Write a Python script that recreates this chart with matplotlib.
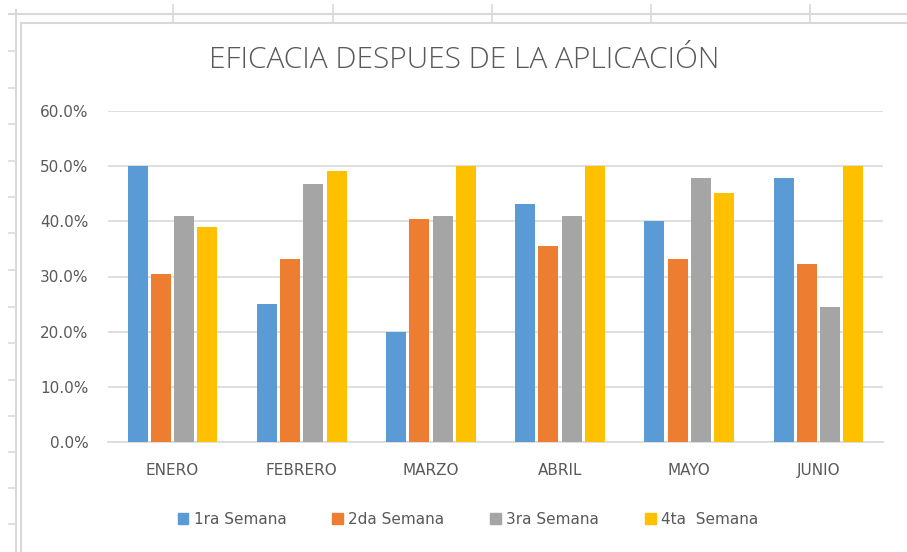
import matplotlib
matplotlib.use("Agg")
import matplotlib.pyplot as plt
from matplotlib.lines import Line2D
from matplotlib.patches import Rectangle
import numpy as np

months = ["ENERO", "FEBRERO", "MARZO", "ABRIL", "MAYO", "JUNIO"]
series_names = ["1ra Semana", "2da Semana", "3ra Semana", "4ta  Semana"]
semana1 = [0.50, 0.25, 0.20, 0.431, 0.40, 0.479]
semana2 = [0.304, 0.332, 0.404, 0.355, 0.332, 0.323]
semana3 = [0.41, 0.468, 0.41, 0.41, 0.479, 0.245]
semana4 = [0.39, 0.491, 0.50, 0.50, 0.451, 0.50]
colors = ["#5B9BD5", "#ED7D31", "#A5A5A5", "#FFC000"]
yticks = [0.0, 0.1, 0.2, 0.3, 0.4, 0.5, 0.6]

W, H = 907, 552
fig = plt.figure(figsize=(W / 100, H / 100), dpi=100)
fig.patch.set_facecolor("white")

# spreadsheet background decorations
lc = "#d9d9d9"
def fx(x): return x / W
def fy(y): return 1 - y / H
fig.add_artist(Line2D([fx(9), 1], [fy(14), fy(14)], color=lc, lw=1.5))
fig.add_artist(Line2D([fx(21), 1], [fy(23), fy(23)], color=lc, lw=1.5))
fig.add_artist(Line2D([fx(16), fx(16)], [fy(10), 0], color=lc, lw=1.5))
fig.add_artist(Line2D([fx(21), fx(21)], [fy(23), 0], color=lc, lw=1.5))
for x in [173, 333, 492, 651, 810]:
    fig.add_artist(Line2D([fx(x), fx(x)], [fy(5), fy(23)], color=lc, lw=1.2))
for y in [51, 87.5, 124, 160.5, 197, 233.5, 270, 306.5, 343, 379.5, 416, 452, 488, 524]:
    fig.add_artist(Line2D([fx(9), fx(16)], [fy(y), fy(y)], color=lc, lw=1.2))

ax = fig.add_axes([fx(108), fy(442), fx(883) - fx(108), fy(111) - fy(442)])
ax.set_facecolor("white")

x = np.arange(len(months))
step = 0.18
bw = 0.155
all_series = [semana1, semana2, semana3, semana4]
for i, (vals, c, name) in enumerate(zip(all_series, colors, series_names)):
    ax.bar(x + (i - 1.5) * step, vals, width=bw, color=c, label=name, zorder=3)

ax.set_xlim(-0.5, len(months) - 0.5)
ax.set_ylim(0, 0.6)
ax.set_yticks(yticks)
ax.set_yticklabels([f"{v*100:.1f}%" for v in yticks])
ax.set_xticks(x)
ax.set_xticklabels(months)
ax.yaxis.grid(True, color="#d9d9d9", lw=1.2, zorder=0)
for s in ["top", "right", "left"]:
    ax.spines[s].set_visible(False)
ax.spines["bottom"].set_color("#d9d9d9")
ax.spines["bottom"].set_linewidth(1.2)
ax.tick_params(axis="both", length=0, colors="#595959", labelsize=11)
ax.tick_params(axis="y", pad=14)
ax.tick_params(axis="x", pad=15)

fig.text(fx(464), fy(60), "EFICACIA DESPUES DE LA APLICACIÓN", ha="center", va="center",
         fontsize=21.5, color="#595959", family="Open Sans", fontweight="light")

handles = [Rectangle((0, 0), 1, 1, color=c) for c in colors]
fig.legend(handles, series_names, loc="center", bbox_to_anchor=(fx(468), fy(519)), ncol=4,
           frameon=False, fontsize=11, labelcolor="#595959", handlelength=0.7, handleheight=0.7,
           columnspacing=3.0, handletextpad=0.35)

fig.savefig("out.png", dpi=100, facecolor="white")
